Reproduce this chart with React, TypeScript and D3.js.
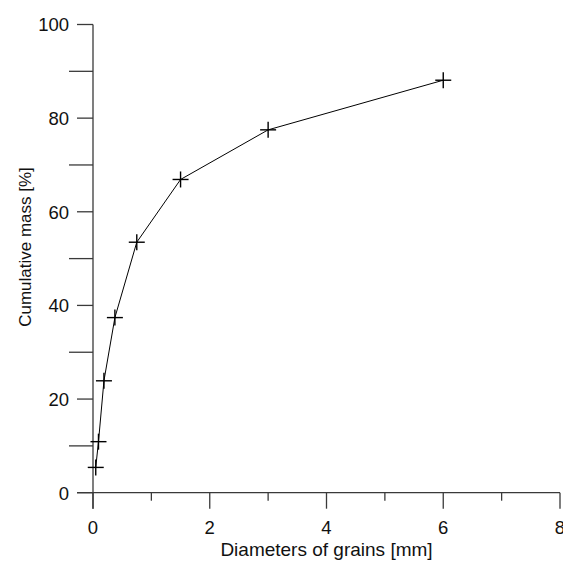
import React from 'react';
import * as d3 from 'd3';

// grain size (mm) vs cumulative mass passing (%)
const diameters = [0.047, 0.094, 0.1875, 0.375, 0.75, 1.5, 3, 6];
const cumulative = [5.4, 10.9, 23.9, 37.4, 53.5, 66.9, 77.5, 88.1];

const xMajor = [0, 2, 4, 6, 8];
const xMinor = [1, 3, 5, 7];
const yMajor = [0, 20, 40, 60, 80, 100];
const yMinor = [10, 30, 50, 70, 90];

const W = 563;
const H = 561;
const margin = { top: 24.5, right: 3, bottom: 68.3, left: 93 };

export default function App() {
  const x = d3.scaleLinear().domain([0, 8]).range([margin.left, W - margin.right]);
  const y = d3.scaleLinear().domain([0, 100]).range([H - margin.bottom, margin.top]);

  const pts = diameters.map((d, i) => [d, cumulative[i]] as [number, number]);
  const line = d3.line<[number, number]>()
    .x(d => x(d[0]))
    .y(d => y(d[1]));

  const axisColor = '#3a3a3a';
  const font = 'Liberation Sans, Arial, sans-serif';
  const x0 = x(0);
  const y0 = y(0);

  return (
    <svg width={W} height={H} style={{ position: 'absolute', left: 0, top: 0, background: '#fff' }}
      fontFamily={font}>
      {/* axes lines, extended by the zero major ticks */}
      <line x1={x0 - 16} x2={x(8)} y1={y0} y2={y0} stroke={axisColor} strokeWidth={1.3} />
      <line x1={x0} x2={x0} y1={y(100)} y2={y0 + 16} stroke={axisColor} strokeWidth={1.3} />

      {xMajor.map(v => (
        <g key={'xm' + v}>
          <line x1={x(v)} x2={x(v)} y1={y0} y2={y0 + 16} stroke={axisColor} strokeWidth={1.3} />
          <text x={x(v)} y={533.5} fontSize={18.5} textAnchor="middle" fill="#111">{v}</text>
        </g>
      ))}
      {xMinor.map(v => (
        <line key={'xn' + v} x1={x(v)} x2={x(v)} y1={y0} y2={y0 + 8} stroke={axisColor} strokeWidth={1.3} />
      ))}

      {yMajor.map(v => (
        <g key={'ym' + v}>
          <line x1={x0 - 16} x2={x0} y1={y(v)} y2={y(v)} stroke={axisColor} strokeWidth={1.3} />
          <text x={69} y={y(v) + 6.8} fontSize={18.5} textAnchor="end" fill="#111">{v}</text>
        </g>
      ))}
      {yMinor.map(v => (
        <line key={'yn' + v} x1={x0 - 24} x2={x0} y1={y(v)} y2={y(v)} stroke={axisColor} strokeWidth={1.3} />
      ))}

      <text x={(x(0) + x(8)) / 2} y={555.5} fontSize={19} textAnchor="middle" fill="#111">
        Diameters of grains [mm]
      </text>
      <text transform="translate(31,247) rotate(-90)" fontSize={17}
        textAnchor="middle" fill="#111">
        Cumulative mass [%]
      </text>

      <path d={line(pts) || ''} fill="none" stroke="#000" strokeWidth={1} />
      {pts.map((p, i) => (
        <g key={'p' + i} stroke="#000" strokeWidth={1.4}>
          <line x1={x(p[0]) - 8} x2={x(p[0]) + 8} y1={y(p[1])} y2={y(p[1])} />
          <line x1={x(p[0])} x2={x(p[0])} y1={y(p[1]) - 8} y2={y(p[1]) + 8} />
        </g>
      ))}
    </svg>
  );
}
